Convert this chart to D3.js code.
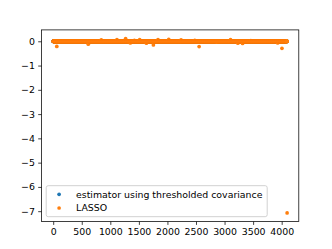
<!DOCTYPE html>
<html>
<head>
<meta charset="utf-8">
<script src="https://cdn.jsdelivr.net/npm/d3@7"></script>
<style>
  body { margin: 0; background: #fff; }
  svg { font-family: "DejaVu Sans", sans-serif; }
</style>
</head>
<body>
<div id="vis"></div>
<script>
// coefficient estimates, one per index (0 .. 4095)
const N_COEF = 4096;

// thresholded-covariance estimator: every coefficient reads as 0
const THRESH_IDX = [];
const THRESH_VAL = [];

// LASSO: 0 everywhere except these indices
const LASSO_IDX = [63, 614, 842, 1116, 1268, 1350, 1421, 1514, 1631, 1754, 1835, 2023,
                   2239, 2479, 2555, 2870, 3105, 3233, 3316, 3461, 3930, 4005, 4095];
const LASSO_VAL = [-0.21, -0.12, 0.06, 0.07, 0.11, -0.07, 0.04, 0.07, -0.08, -0.15, 0.07, 0.08,
                   0.06, 0.04, -0.22, -0.04, 0.07, -0.08, -0.09, 0.03, -0.07, -0.29, -7.07];

const X_TICKS = [0, 500, 1000, 1500, 2000, 2500, 3000, 3500, 4000];
const Y_TICKS = [-7, -6, -5, -4, -3, -2, -1, 0];

const LABELS = ["estimator using thresholded covariance", "LASSO"];
const COLORS = ["#1f77b4", "#ff7f0e"];

const FRAME_WIDTH = 332;
const FRAME_HEIGHT = 249;
const MARGINS = {left: 41.5, right: 33.2, top: 29.9, bottom: 27.4};
const VIS_WIDTH = FRAME_WIDTH - MARGINS.left - MARGINS.right;
const VIS_HEIGHT = FRAME_HEIGHT - MARGINS.top - MARGINS.bottom;
const FONT = 9.4;

function buildSeries(idx, vals) {
  const lookup = new Map(idx.map((d, i) => [d, vals[i]]));
  return d3.range(N_COEF).map((i) => ({x: i, y: lookup.has(i) ? lookup.get(i) : 0}));
}

const SERIES = [buildSeries(THRESH_IDX, THRESH_VAL), buildSeries(LASSO_IDX, LASSO_VAL)];

const FRAME = d3.select("#vis")
  .append("svg")
    .attr("width", FRAME_WIDTH)
    .attr("height", FRAME_HEIGHT);

// matplotlib style 5% padding on the data limits
const allY = SERIES.flat().map((d) => d.y);
const yMin = d3.min(allY), yMax = d3.max(allY);
const yPad = (yMax - yMin) * 0.05;
const xPad = (N_COEF - 1) * 0.05;

const X_SCALE = d3.scaleLinear()
  .domain([-xPad, N_COEF - 1 + xPad])
  .range([MARGINS.left, MARGINS.left + VIS_WIDTH]);

const Y_SCALE = d3.scaleLinear()
  .domain([yMin - yPad, yMax + yPad])
  .range([MARGINS.top + VIS_HEIGHT, MARGINS.top]);

// points
SERIES.forEach((s, k) => {
  FRAME.append("g")
    .selectAll("circle")
    .data(s)
    .enter()
    .append("circle")
      .attr("cx", (d) => X_SCALE(d.x))
      .attr("cy", (d) => Y_SCALE(d.y))
      .attr("r", 1.85)
      .attr("fill", COLORS[k]);
});

// axes
const fmt = (d) => d < 0 ? "\u2212" + Math.abs(d) : String(d);

const xAxis = FRAME.append("g")
  .attr("transform", "translate(0," + (MARGINS.top + VIS_HEIGHT) + ")")
  .call(d3.axisBottom(X_SCALE).tickValues(X_TICKS).tickFormat(fmt)
        .tickSize(3.3).tickPadding(3.3).tickSizeOuter(0));

const yAxis = FRAME.append("g")
  .attr("transform", "translate(" + MARGINS.left + ",0)")
  .call(d3.axisLeft(Y_SCALE).tickValues(Y_TICKS).tickFormat(fmt)
        .tickSize(3.3).tickPadding(3.3).tickSizeOuter(0));

[xAxis, yAxis].forEach((ax) => {
  ax.select(".domain").remove();
  ax.selectAll("line").attr("stroke", "#000").attr("stroke-width", 0.75);
  ax.selectAll("text").attr("font-size", FONT).attr("font-family", "DejaVu Sans").attr("fill", "#000");
});

// frame
FRAME.append("rect")
  .attr("x", MARGINS.left)
  .attr("y", MARGINS.top)
  .attr("width", VIS_WIDTH)
  .attr("height", VIS_HEIGHT)
  .attr("fill", "none")
  .attr("stroke", "#000")
  .attr("stroke-width", 0.75);

// legend, lower left
const LEG = {x: 46.2, y: 185.7, w: 221, h: 31};
const legend = FRAME.append("g");
legend.append("rect")
  .attr("x", LEG.x)
  .attr("y", LEG.y)
  .attr("width", LEG.w)
  .attr("height", LEG.h)
  .attr("rx", 2)
  .attr("fill", "rgba(255,255,255,0.8)")
  .attr("stroke", "#cccccc")
  .attr("stroke-width", 0.9);

LABELS.forEach((lab, k) => {
  const cy = LEG.y + 8.6 + k * 13.7;
  legend.append("circle")
    .attr("cx", LEG.x + 12.9)
    .attr("cy", cy)
    .attr("r", 1.85)
    .attr("fill", COLORS[k]);
  legend.append("text")
    .attr("x", LEG.x + 29.8)
    .attr("y", cy)
    .attr("dy", "0.35em")
    .attr("font-size", FONT)
    .attr("fill", "#000")
    .text(lab);
});
</script>
</body>
</html>
